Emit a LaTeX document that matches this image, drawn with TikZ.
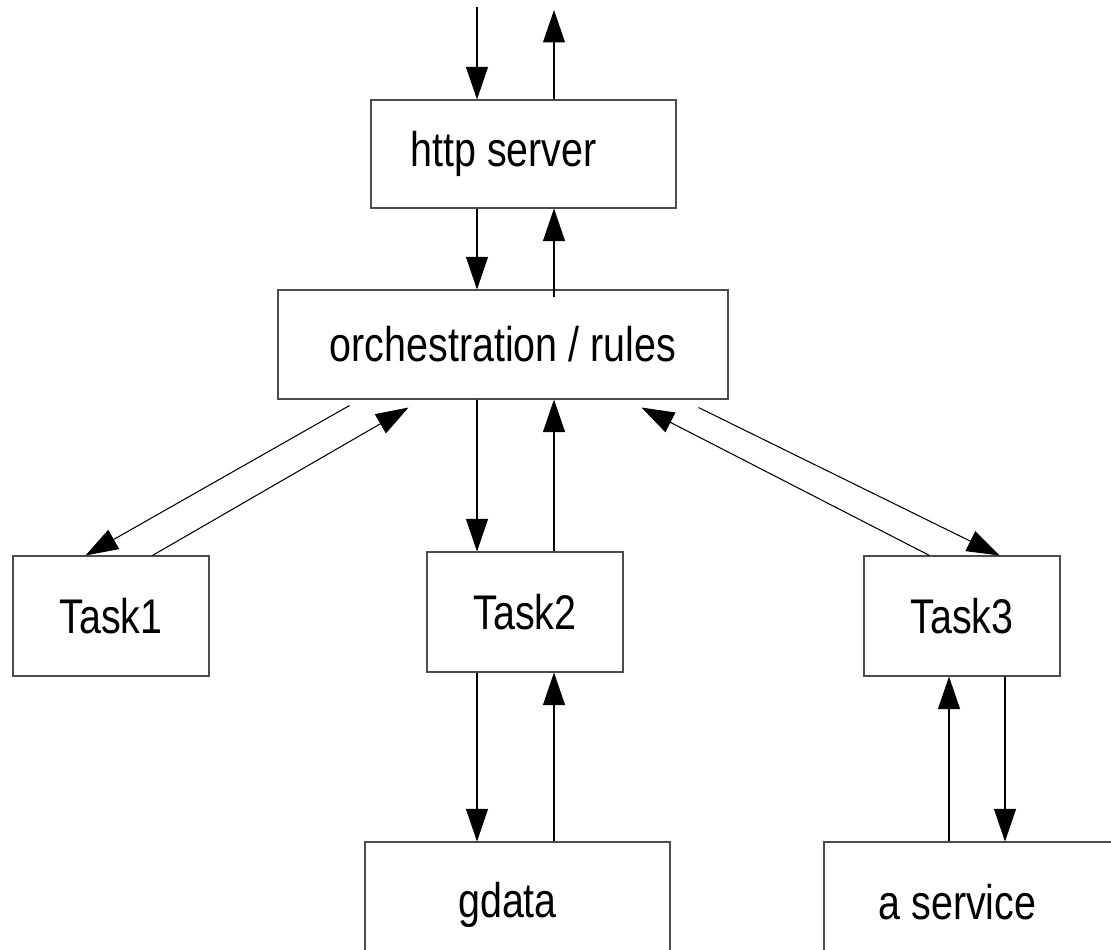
\documentclass[tikz,border=0pt]{standalone}
\usepackage{fontspec}
\setmainfont{Liberation Sans}[FakeStretch=0.81]
\usetikzlibrary{arrows.meta}

% one unit = one pixel of the drawing
\newlength{\px}
\setlength{\px}{0.02cm}

\tikzset{
    box/.style={draw=black!70, line width=0.6pt, rectangle, inner sep=0pt},
    flow/.style={draw=black, line width=0.6pt,
                 -{Triangle[width=12.5pt,length=18.5pt]}},
}

\begin{document}
\begin{tikzpicture}[x=\px, y=-\px, font=\fontsize{27.7}{33}\selectfont]
    \path[use as bounding box, clip] (0,0) rectangle (1111,949);

    \node[box, minimum width=305\px, minimum height=108\px,
          label={[xshift=-20\px]center:http server}] (http) at (523.5,154) {};
    \node[box, minimum width=450\px, minimum height=109\px] (orch) at (503,344.5) {orchestration / rules};

    \node[box, minimum width=196\px, minimum height=120\px] (t1) at (111,616) {Task1};
    \node[box, minimum width=196\px, minimum height=120\px] (t2) at (525,612) {Task2};
    \node[box, minimum width=196\px, minimum height=120\px] (t3) at (962,616) {Task3};

    \node[box, minimum width=305\px, minimum height=120\px,
          label={[xshift=-10\px,yshift=-3\px]center:gdata}] (gdata) at (517.5,902) {};
    \node[box, minimum width=305\px, minimum height=120\px,
          label={[xshift=-19\px]center:a service}] (svc) at (976.5,902) {};

    % request in / response out
    \coordinate (in) at (477,7);
    \coordinate (out) at (554,10);

    \draw[flow] (in) -- (in |- http.north);
    \draw[flow] (out |- http.north) -- (out);

    \draw[flow] (in |- http.south) -- (in |- orch.north);
    \draw[flow] ([yshift=-8\px]out |- orch.north) -- (out |- http.south);

%    \draw[flow] (orch) -- (t1);
    \draw[flow] ([xshift=72\px,yshift=-6\px]orch.south west) -- ([xshift=73\px]t1.north west);
    \draw[flow] ([xshift=140\px]t1.north west) -- ([xshift=131\px,yshift=-8\px]orch.south west);

    \draw[flow] (in |- orch.south) -- (in |- t2.north);
    \draw[flow] (out |- t2.north) -- (out |- orch.south);

    \draw[flow] ([xshift=-30\px,yshift=-8\px]orch.south east) -- ([xshift=136\px]t3.north west);
    \draw[flow] ([xshift=66\px]t3.north west) -- ([xshift=-87\px,yshift=-8\px]orch.south east);

    \draw[flow] (in |- t2.south) -- (in |- gdata.north);
    \draw[flow] (out |- gdata.north) -- (out |- t2.south);

    \draw[flow] ([xshift=-13\px]t3.south |- svc.north) -- ([xshift=-13\px]t3.south);
    \draw[flow] ([xshift=43\px]t3.south) -- ([xshift=43\px]t3.south |- svc.north);
\end{tikzpicture}
\end{document}
